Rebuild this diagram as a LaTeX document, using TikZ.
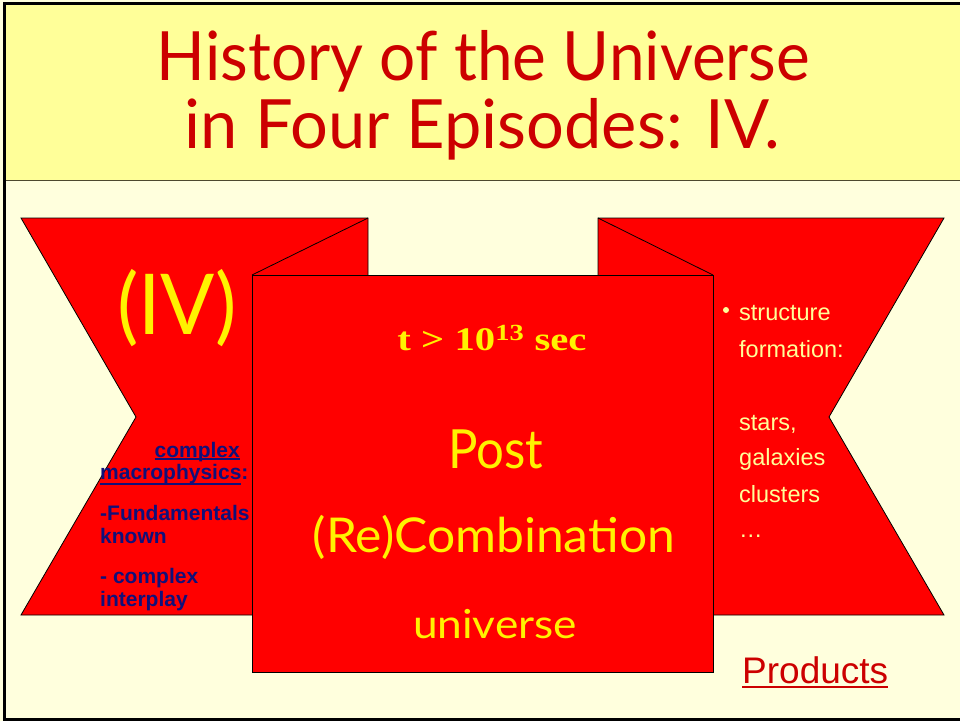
\documentclass[tikz,border=0pt]{standalone}
\usepackage{fontspec}
\usepackage{graphicx}
\setmainfont{Liberation Serif}
\setsansfont{Liberation Sans}
\newfontfamily\papyrus{Lato}
\usetikzlibrary{positioning}

\definecolor{titlered}{HTML}{CC0000}
\definecolor{bannerred}{HTML}{FF0000}
\definecolor{titlebg}{HTML}{FFFF99}
\definecolor{pagebg}{HTML}{FFFFDD}
\definecolor{linkblue}{HTML}{10107A}
\definecolor{paleyellow}{HTML}{FFFF99}

% stretch a text to a given width, keeping its height
\newcommand{\fitto}[2]{\resizebox{#1}{\height}{#2}}
% underline as for a link
\newcommand{\linkul}[2][3pt]{\setbox0\hbox{#2}%
    \rlap{\rule[-#1]{\wd0}{1.6pt}}\box0}

\tikzset{
    banner/.style={fill=bannerred, draw=black, line width=0.8pt},
    deco/.style={font=\papyrus, text=yellow, inner sep=0pt, anchor=base},
    navytext/.style={font=\sffamily\bfseries\fontsize{21}{24}\selectfont,
        text=linkblue, inner sep=0pt, anchor=base west},
    palelist/.style={font=\sffamily\fontsize{23.5}{26}\selectfont,
        text=paleyellow, inner sep=0pt, anchor=base west}
}

\begin{document}
\begin{tikzpicture}[x=1pt, y=-1pt]

    \useasboundingbox (0,0) rectangle (960,721);

    % page and title band
    \fill[pagebg] (0,0) rectangle (960,721);
    \fill[titlebg] (4,3) rectangle (960,180);
    \draw[black!60!olive, line width=1pt] (4,180) -- (960,180);
    \draw[black, line width=3pt] (962,3) -- (4,3) -- (4,719) -- (962,719);

    % title
    \node[deco, text=titlered] (title1) at (483.5,80)
        {\fitto{653pt}{\fontsize{68}{68}\selectfont History of the Universe}};
    \node[deco, text=titlered] (title2) at (482.5,148)
        {\fitto{595pt}{\fontsize{68}{68}\selectfont in Four Episodes: IV.}};

    % banners
    \draw[banner] (21,218) -- (368,218) -- (368,615) -- (21,615)
        -- (136,417) -- cycle;
    \draw[banner] (598,218) -- (944,218) -- (829,417) -- (944,615)
        -- (598,615) -- cycle;
    \coordinate (foldL) at (252,275);
    \coordinate (foldR) at (713,275);
    \draw[line width=0.8pt] (368,218) -- (foldL);
    \draw[line width=0.8pt] (598,218) -- (foldR);

    % front panel
    \draw[banner] (foldL) rectangle (713,672);

    % left banner
    \node[deco] (episode) at (177,334)
        {\fitto{120pt}{\fontsize{84}{84}\selectfont (IV)}};
    \node[navytext, anchor=base east] (cplx) at (240,457) {\linkul{complex}};
    \node[navytext] (macro) at (100,479) {\linkul[6pt]{macrophysics}:};
    \node[navytext] (fund) at (100,520) {-Fundamentals};
    \node[navytext] (known) at (100,543) {known};
    \node[navytext] (cplx2) at (100,583) {- complex};
    \node[navytext] (inter) at (100,606) {interplay};

    % front panel text
    \node[deco, font=\rmfamily\bfseries] (time) at (492,350)
        {\fitto{189pt}{\fontsize{33}{33}\selectfont t > 10\textsuperscript{13} sec}};
    \node[deco] (post) at (495.5,468)
        {\fitto{95pt}{\fontsize{54}{54}\selectfont Post}};
    \node[deco] (recomb) at (494,552)
        {\fitto{362pt}{\fontsize{48}{48}\selectfont (Re)Combination}};
    \node[deco] (univ) at (495,638)
        {\fitto{164pt}{\fontsize{40}{40}\selectfont universe}};

    % right banner
    \fill[paleyellow] (726,310) circle (3pt);
    \node[palelist] (struct) at (739,320) {structure};
    \node[palelist] (form) at (739,357) {formation:};
    \node[palelist] (stars) at (739,430) {stars,};
    \node[palelist] (gal) at (739,465) {galaxies};
    \node[palelist] (clus) at (739,502) {clusters};
    \node[palelist] (dots) at (739,537) {\dots};

    % link
    \node[inner sep=0pt, anchor=base west, text=titlered,
        font=\sffamily\fontsize{37}{40}\selectfont] (prod) at (742,683)
        {\linkul[5pt]{Products}};

\end{tikzpicture}
\end{document}
